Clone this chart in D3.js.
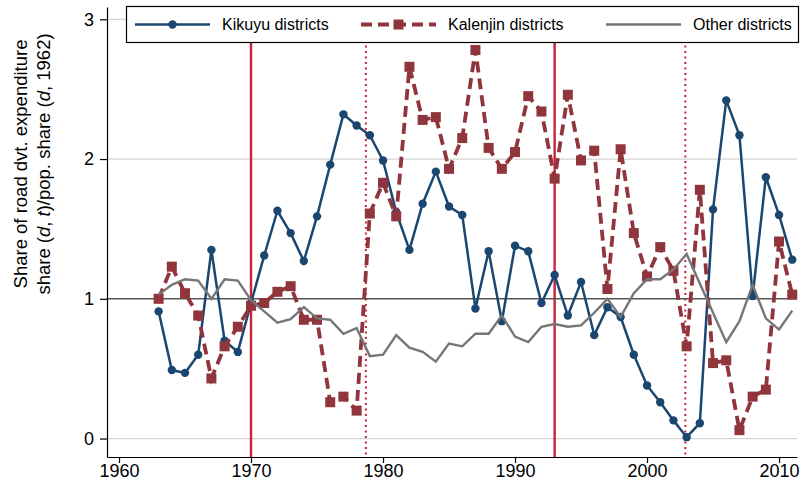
<!DOCTYPE html>
<html>
<head>
<meta charset="utf-8">
<script src="https://d3js.org/d3.v7.min.js"></script>
<style>
  body { margin: 0; background: #fff; }
  svg { display: block; font-family: "Liberation Sans", Arial, Helvetica, sans-serif; }
</style>
</head>
<body>
<svg width="802" height="483"></svg>
<script>
var years = d3.range(1963, 2012);

var kikuyu = [0.91, 0.49, 0.47, 0.60, 1.35, 0.70, 0.62, 0.97, 1.31, 1.63,
              1.47, 1.27, 1.59, 1.96, 2.32, 2.24, 2.17, 1.99, 1.62, 1.35,
              1.68, 1.91, 1.66, 1.60, 0.93, 1.34, 0.84, 1.38, 1.34, 0.97,
              1.17, 0.88, 1.12, 0.74, 0.94, 0.87, 0.60, 0.38, 0.26, 0.13,
              0.01, 0.11, 1.64, 2.42, 2.17, 1.02, 1.87, 1.60, 1.28];

var kalenjin = [1.00, 1.23, 1.04, 0.88, 0.43, 0.66, 0.80, 0.95, 0.97, 1.05,
                1.09, 0.85, 0.85, 0.26, 0.30, 0.20, 1.61, 1.83, 1.59, 2.66,
                2.28, 2.30, 1.93, 2.15, 2.78, 2.08, 1.93, 2.05, 2.45, 2.34,
                1.86, 2.46, 1.99, 2.06, 1.07, 2.07, 1.47, 1.16, 1.37, 1.20,
                0.66, 1.78, 0.54, 0.56, 0.06, 0.30, 0.35, 1.41, 1.03];

var other = [1.03, 1.10, 1.14, 1.13, 1.00, 1.14, 1.13, 0.99, 0.91, 0.83,
             0.855, 0.94, 0.86, 0.85, 0.75, 0.79, 0.59, 0.60, 0.74, 0.65,
             0.62, 0.55, 0.68, 0.66, 0.75, 0.75, 0.88, 0.73, 0.69, 0.80,
             0.82, 0.80, 0.81, 0.90, 1.00, 0.87, 1.04, 1.14, 1.14, 1.21,
             1.32, 1.11, 0.90, 0.69, 0.84, 1.10, 0.86, 0.78, 0.915];

var xTicks = [1960, 1970, 1980, 1990, 2000, 2010];
var yTicks = [0, 1, 2, 3];
var solidLines = [1970, 1993];
var dottedLines = [1978.7, 2002.9];
var legendLabels = ["Kikuyu districts", "Kalenjin districts", "Other districts"];

var blue = "#1a476f", maroon = "#90353b", grey = "#767676", red = "#c8233c";

var svg = d3.select("svg");
// plot region edges (note: "top" is reserved on window, so use pTop etc.)
var pLeft = 107, pRight = 797, pTop = 7, pBottom = 457;

var x = d3.scaleLinear().domain([1959.09, 2011.36]).range([pLeft, pRight]);
var y = d3.scaleLinear().domain([-0.132, 3.088]).range([pBottom, pTop]);

// grid lines
svg.append("g").selectAll("line")
    .data(yTicks.filter(function(d) { return d !== 1; }))
    .enter().append("line")
    .attr("x1", pLeft).attr("x2", pRight)
    .attr("y1", function(d) { return y(d); })
    .attr("y2", function(d) { return y(d); })
    .attr("stroke", "#d4d4d4")
    .attr("stroke-width", 1.2);

// vertical event lines
svg.append("g").selectAll("line")
    .data(solidLines)
    .enter().append("line")
    .attr("x1", function(d) { return x(d); })
    .attr("x2", function(d) { return x(d); })
    .attr("y1", pTop).attr("y2", pBottom)
    .attr("stroke", red)
    .attr("stroke-width", 2.4);

svg.append("g").selectAll("line")
    .data(dottedLines)
    .enter().append("line")
    .attr("x1", function(d) { return x(d); })
    .attr("x2", function(d) { return x(d); })
    .attr("y1", pTop).attr("y2", pBottom)
    .attr("stroke", red)
    .attr("stroke-width", 2)
    .attr("stroke-dasharray", "2,3.5");

// reference line at 1
svg.append("line")
    .attr("x1", pLeft).attr("x2", pRight)
    .attr("y1", y(1)).attr("y2", y(1))
    .attr("stroke", "#555")
    .attr("stroke-width", 1.6);

var line = function(vals) {
    return d3.line()
        .x(function(d, i) { return x(years[i]); })
        .y(function(d) { return y(d); })(vals);
};

// Kikuyu
svg.append("path")
    .attr("d", line(kikuyu))
    .attr("fill", "none")
    .attr("stroke", blue)
    .attr("stroke-width", 2.5);
svg.append("g").selectAll("circle")
    .data(kikuyu)
    .enter().append("circle")
    .attr("cx", function(d, i) { return x(years[i]); })
    .attr("cy", function(d) { return y(d); })
    .attr("r", 4.2)
    .attr("fill", blue);

// Kalenjin
svg.append("path")
    .attr("d", line(kalenjin))
    .attr("fill", "none")
    .attr("stroke", maroon)
    .attr("stroke-width", 3.8)
    .attr("stroke-dasharray", "11,6");
svg.append("g").selectAll("rect")
    .data(kalenjin)
    .enter().append("rect")
    .attr("x", function(d, i) { return x(years[i]) - 5; })
    .attr("y", function(d) { return y(d) - 5; })
    .attr("width", 10).attr("height", 10)
    .attr("fill", maroon);

// Other
svg.append("path")
    .attr("d", line(other))
    .attr("fill", "none")
    .attr("stroke", grey)
    .attr("stroke-width", 2.4);

// axes
var xAxis = svg.append("g")
    .attr("transform", "translate(0," + pBottom + ")")
    .call(d3.axisBottom(x).tickValues(xTicks).tickFormat(d3.format("d"))
        .tickSize(6).tickSizeOuter(0).tickPadding(1.5));
var yAxis = svg.append("g")
    .attr("transform", "translate(" + pLeft + ",0)")
    .call(d3.axisLeft(y).tickValues(yTicks).tickFormat(d3.format("d"))
        .tickSize(7).tickSizeOuter(0).tickPadding(6));

[xAxis, yAxis].forEach(function(a) {
    a.select(".domain").attr("stroke", "#000").attr("stroke-width", 1.2);
    a.selectAll(".tick line").attr("stroke", "#000").attr("stroke-width", 1.2);
    a.selectAll("text").attr("font-size", 18).attr("fill", "#000")
        .attr("font-family", "Liberation Sans, Arial, sans-serif");
});

// y title
var title = svg.append("g")
    .attr("font-size", 18.5)
    .attr("fill", "#000");
title.append("text")
    .attr("transform", "translate(27,164) rotate(-90)")
    .attr("text-anchor", "middle")
    .text("Share of road dvt. expenditure");
var t2 = title.append("text")
    .attr("transform", "translate(50,164) rotate(-90)")
    .attr("text-anchor", "middle");
t2.append("tspan").text("share (");
t2.append("tspan").attr("font-style", "italic").text("d");
t2.append("tspan").text(", ");
t2.append("tspan").attr("font-style", "italic").text("t");
t2.append("tspan").text(")/pop. share (");
t2.append("tspan").attr("font-style", "italic").text("d");
t2.append("tspan").text(", 1962)");

// legend
var lg = svg.append("g");
lg.append("rect")
    .attr("x", 126.5).attr("y", 6.5)
    .attr("width", 672).attr("height", 36)
    .attr("fill", "#fff")
    .attr("stroke", "#000")
    .attr("stroke-width", 1.2);

var legX = [135, 361, 606];
var ly = 24.5;
legendLabels.forEach(function(lab, i) {
    var g = lg.append("g").attr("transform", "translate(" + legX[i] + "," + ly + ")");
    if (i === 0) {
        g.append("line").attr("x1", 0).attr("x2", 75)
            .attr("stroke", blue).attr("stroke-width", 2.5);
        g.append("circle").attr("cx", 37.5).attr("r", 4.2).attr("fill", blue);
    } else if (i === 1) {
        g.append("line").attr("x1", 0).attr("x2", 75)
            .attr("stroke", maroon).attr("stroke-width", 3.8)
            .attr("stroke-dasharray", "11,6");
        g.append("rect").attr("x", 32.5).attr("y", -5)
            .attr("width", 10).attr("height", 10).attr("fill", maroon);
    } else {
        g.append("line").attr("x1", 0).attr("x2", 75)
            .attr("stroke", grey).attr("stroke-width", 2.4);
    }
    g.append("text")
        .attr("x", 87)
        .attr("dy", "0.35em")
        .attr("font-size", 16)
        .attr("fill", "#000")
        .text(lab);
});
</script>
</body>
</html>
